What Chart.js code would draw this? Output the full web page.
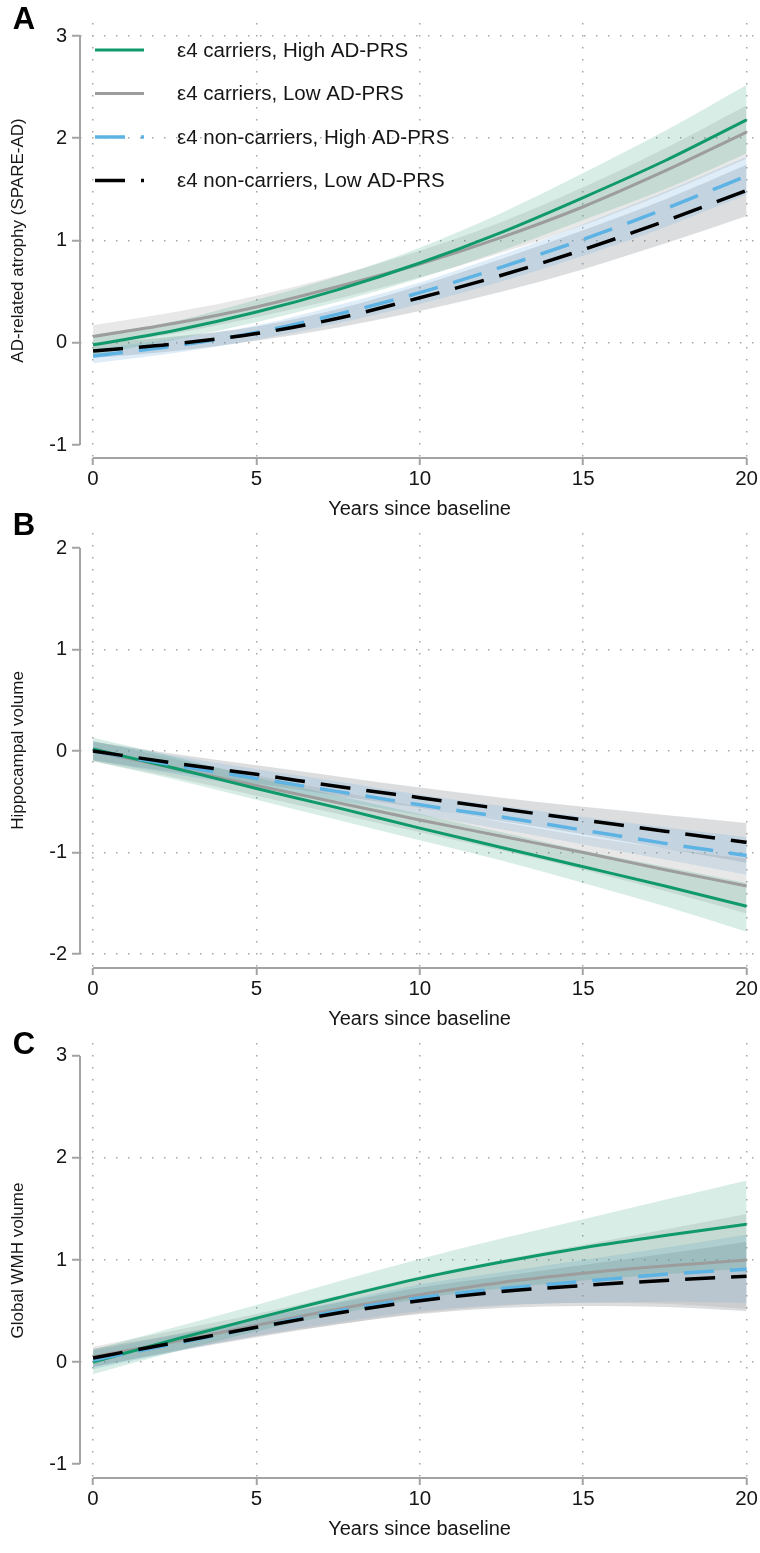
<!DOCTYPE html>
<html>
<head>
<meta charset="utf-8">
<script src="https://cdn.jsdelivr.net/npm/chart.js@4.4.1/dist/chart.umd.min.js"></script>
<style>
  body { margin: 0; background: #fff; width: 760px; height: 1553px; overflow: hidden; position: relative; }
  canvas { position: absolute; left: 0; }
</style>
</head>
<body>
<canvas id="panelA" width="760" height="521" style="top:0px"></canvas>
<canvas id="panelB" width="760" height="526" style="top:505px"></canvas>
<canvas id="panelC" width="760" height="519" style="top:1022px"></canvas>
<script>
// shared x values and labels
const years = [0, 2.5, 5, 7.5, 10, 12.5, 15, 17.5, 20];
const xTickValues = [0, 5, 10, 15, 20];
const groupLabels = ['ε4 carriers, High AD-PRS', 'ε4 carriers, Low AD-PRS',
                     'ε4 non-carriers, High AD-PRS', 'ε4 non-carriers, Low AD-PRS'];

// Panel A - AD-related atrophy (SPARE-AD)
const atrophyTicks = [-1, 0, 1, 2, 3];
const atrophyGrid = [0, 1, 2, 3];
const atrophyCarHigh    = [-0.02, 0.12, 0.30, 0.52, 0.78, 1.08, 1.42, 1.78, 2.18];
const atrophyCarLow     = [0.06, 0.19, 0.35, 0.55, 0.77, 1.03, 1.33, 1.68, 2.06];
const atrophyNonHigh    = [-0.13, -0.03, 0.10, 0.28, 0.49, 0.74, 1.01, 1.31, 1.63];
const atrophyNonLow     = [-0.08, -0.01, 0.09, 0.24, 0.44, 0.66, 0.91, 1.19, 1.49];
const atrophyCarHighLo  = [-0.12, 0.03, 0.20, 0.40, 0.63, 0.90, 1.20, 1.50, 1.85];
const atrophyCarHighHi  = [0.08, 0.21, 0.42, 0.65, 0.93, 1.27, 1.66, 2.07, 2.52];
const atrophyCarLowLo   = [-0.04, 0.09, 0.25, 0.43, 0.64, 0.88, 1.15, 1.46, 1.80];
const atrophyCarLowHi   = [0.17, 0.30, 0.46, 0.66, 0.90, 1.18, 1.52, 1.90, 2.32];
const atrophyNonHighLo  = [-0.20, -0.10, 0.03, 0.19, 0.38, 0.60, 0.85, 1.13, 1.45];
const atrophyNonHighHi  = [-0.06, 0.04, 0.17, 0.37, 0.59, 0.86, 1.16, 1.48, 1.82];
const atrophyNonLowLo   = [-0.15, -0.08, 0.02, 0.15, 0.31, 0.50, 0.72, 0.97, 1.24];
const atrophyNonLowHi   = [-0.01, 0.06, 0.16, 0.33, 0.56, 0.82, 1.10, 1.40, 1.74];

// Panel B - Hippocampal volume
const hippoTicks = [-2, -1, 0, 1, 2];
const hippoGrid = [-2, -1, 0, 1];
const hippoCarHigh    = [0.02, -0.17, -0.37, -0.56, -0.76, -0.95, -1.14, -1.33, -1.53];
const hippoCarLow     = [0.00, -0.17, -0.34, -0.51, -0.68, -0.84, -1.00, -1.17, -1.33];
const hippoNonHigh    = [0.00, -0.14, -0.27, -0.40, -0.53, -0.65, -0.78, -0.91, -1.03];
const hippoNonLow     = [0.00, -0.12, -0.23, -0.35, -0.46, -0.57, -0.68, -0.79, -0.90];
const hippoCarHighLo  = [-0.10, -0.28, -0.48, -0.68, -0.88, -1.08, -1.30, -1.53, -1.78];
const hippoCarHighHi  = [0.13, -0.06, -0.26, -0.44, -0.62, -0.80, -0.98, -1.14, -1.30];
const hippoCarLowLo   = [-0.10, -0.26, -0.44, -0.62, -0.80, -0.98, -1.17, -1.38, -1.60];
const hippoCarLowHi   = [0.10, -0.08, -0.24, -0.40, -0.55, -0.70, -0.84, -0.96, -1.06];
const hippoNonHighLo  = [-0.09, -0.23, -0.36, -0.49, -0.63, -0.77, -0.92, -1.07, -1.22];
const hippoNonHighHi  = [0.09, -0.05, -0.18, -0.30, -0.43, -0.54, -0.65, -0.75, -0.85];
const hippoNonLowLo   = [-0.09, -0.21, -0.32, -0.44, -0.56, -0.69, -0.82, -0.96, -1.10];
const hippoNonLowHi   = [0.09, -0.03, -0.14, -0.25, -0.36, -0.46, -0.55, -0.63, -0.71];

// Panel C - Global WMH volume
const wmhTicks = [-1, 0, 1, 2, 3];
const wmhGrid = [0, 1, 2];
const wmhCarHigh    = [0.00, 0.22, 0.43, 0.63, 0.82, 0.98, 1.12, 1.24, 1.35];
const wmhCarLow     = [0.05, 0.20, 0.36, 0.52, 0.66, 0.78, 0.87, 0.94, 1.00];
const wmhNonHigh    = [0.02, 0.18, 0.34, 0.50, 0.63, 0.72, 0.79, 0.86, 0.91];
const wmhNonLow     = [0.04, 0.19, 0.34, 0.48, 0.60, 0.69, 0.75, 0.80, 0.84];
const wmhCarHighLo  = [-0.12, 0.10, 0.30, 0.47, 0.62, 0.72, 0.80, 0.86, 0.92];
const wmhCarHighHi  = [0.12, 0.34, 0.56, 0.79, 1.01, 1.21, 1.40, 1.59, 1.78];
const wmhCarLowLo   = [-0.05, 0.10, 0.24, 0.37, 0.48, 0.55, 0.58, 0.57, 0.52];
const wmhCarLowHi   = [0.15, 0.31, 0.47, 0.65, 0.84, 1.00, 1.15, 1.30, 1.45];
const wmhNonHighLo  = [-0.07, 0.10, 0.26, 0.39, 0.50, 0.56, 0.58, 0.59, 0.58];
const wmhNonHighHi  = [0.11, 0.26, 0.42, 0.59, 0.76, 0.88, 1.00, 1.12, 1.25];
const wmhNonLowLo   = [-0.05, 0.11, 0.25, 0.37, 0.47, 0.53, 0.55, 0.54, 0.50];
const wmhNonLowHi   = [0.13, 0.27, 0.43, 0.58, 0.73, 0.84, 0.95, 1.06, 1.18];

// styles
const FONT = "'Liberation Sans', Arial, Helvetica, sans-serif";
const TEXT = '#161616';
const AXIS = '#a3a3a3';
const GRID = '#a6a6a6';
const lineColors = ['#109a6c', '#9d9d9d', '#5db3e3', '#000000'];
const lineWidths = [3, 3, 3.5, 3.5];
const lineDashes = [[], [], [30, 16], [30, 16]];
const lineOrder = [2, 3, 1, 0];
const bandColors = ['rgba(20,150,105,0.17)', 'rgba(140,140,140,0.20)',
                    'rgba(120,180,225,0.24)', 'rgba(90,100,110,0.22)'];

Chart.defaults.font.family = FONT;
Chart.defaults.color = TEXT;

const pts = vals => vals.map((v, i) => ({ x: years[i], y: v }));

function buildDatasets(lines, lows, highs) {
  const ds = [];
  lines.forEach((vals, g) => ds.push({
    label: groupLabels[g], data: pts(vals), isMain: true,
    borderColor: lineColors[g], borderWidth: lineWidths[g], borderDash: lineDashes[g],
    order: lineOrder[g], fill: false
  }));
  lows.forEach((lo, g) => {
    ds.push({ data: pts(highs[g]), borderWidth: 0, fill: false, order: 10 + g });
    ds.push({ data: pts(lo), borderWidth: 0, fill: '-1', backgroundColor: bandColors[g], order: 10 + g });
  });
  return ds;
}

// offset axis lines, panel letter and legend
const panelDecor = {
  id: 'panelDecor',
  beforeDatasetsDraw(chart) {
    const { ctx, chartArea } = chart;
    const xs = chart.scales.x, ys = chart.scales.y;
    ctx.save();
    ctx.strokeStyle = AXIS;
    ctx.lineWidth = 2;
    ctx.setLineDash([]);
    ctx.beginPath();
    ctx.moveTo(chartArea.left, ys.getPixelForValue(ys.ticks[0].value));
    ctx.lineTo(chartArea.left, ys.getPixelForValue(ys.ticks[ys.ticks.length - 1].value));
    ctx.moveTo(xs.getPixelForValue(xs.ticks[0].value), chartArea.bottom);
    ctx.lineTo(xs.getPixelForValue(xs.ticks[xs.ticks.length - 1].value), chartArea.bottom);
    ctx.stroke();
    ctx.restore();
  },
  afterDraw(chart, args, opts) {
    const { ctx } = chart;
    ctx.save();
    ctx.fillStyle = '#000';
    ctx.font = 'bold 31px ' + FONT;
    ctx.textAlign = 'center';
    ctx.textBaseline = 'middle';
    ctx.fillText(opts.letter, 24, opts.letterY);
    if (opts.legend) {
      ctx.font = '20.5px ' + FONT;
      ctx.textAlign = 'left';
      ctx.fillStyle = TEXT;
      chart.data.datasets.filter(d => d.isMain).forEach((d, i) => {
        const yy = 50 + i * 43.5;
        ctx.strokeStyle = d.borderColor;
        ctx.lineWidth = d.borderWidth;
        ctx.setLineDash(d.borderDash);
        ctx.beginPath();
        ctx.moveTo(95, yy);
        ctx.lineTo(144, yy);
        ctx.stroke();
        ctx.fillText(d.label, 177, yy + 1);
      });
    }
    ctx.restore();
  }
};

function makePanel(id, cfg) {
  new Chart(document.getElementById(id), {
    type: 'line',
    data: { datasets: buildDatasets(cfg.lines, cfg.lows, cfg.highs) },
    options: {
      responsive: false,
      animation: false,
      events: [],
      layout: { padding: { top: cfg.padTop, left: 0, right: 0, bottom: 0 } },
      elements: {
        point: { radius: 0 },
        line: { tension: 0.4, cubicInterpolationMode: 'monotone' }
      },
      scales: {
        x: {
          type: 'linear', min: -0.4, max: 20.385,
          afterBuildTicks: s => { s.ticks = xTickValues.map(v => ({ value: v })); },
          afterFit: s => { s.height = 63; },
          grid: { color: GRID, lineWidth: 1.5, tickColor: AXIS, tickWidth: 2, tickLength: 7, tickBorderDash: [] },
          border: { display: false, dash: [1.5, 10.5] },
          ticks: { font: { size: 20.5 }, padding: 2, autoSkip: false, maxRotation: 0, color: TEXT },
          title: { display: true, text: 'Years since baseline', font: { size: 20 }, color: TEXT, padding: { top: 0, bottom: 0 } }
        },
        y: {
          type: 'linear', min: cfg.yMin, max: cfg.yMax,
          afterBuildTicks: s => { s.ticks = cfg.yTicks.map(v => ({ value: v })); },
          afterFit: s => { s.width = 80; },
          grid: {
            color: c => (c.tick && cfg.yGrid.includes(c.tick.value)) ? GRID : 'rgba(0,0,0,0)',
            lineWidth: 1.5, tickColor: AXIS, tickWidth: 2, tickLength: 8, tickBorderDash: []
          },
          border: { display: false, dash: [1.5, 10.5] },
          ticks: { font: { size: 20 }, padding: 5, color: TEXT },
          title: { display: true, text: cfg.yTitle, font: { size: 17 }, color: TEXT, padding: { top: 8, bottom: 0 } }
        }
      },
      plugins: {
        legend: { display: false },
        tooltip: { enabled: false },
        panelDecor: { letter: cfg.letter, letterY: cfg.letterY, legend: cfg.legend }
      }
    },
    plugins: [panelDecor]
  });
}

makePanel('panelA', {
  letter: 'A', letterY: 20, legend: true, padTop: 23,
  yMin: -1.127, yMax: 3.127, yTicks: atrophyTicks, yGrid: atrophyGrid,
  yTitle: 'AD-related atrophy (SPARE-AD)',
  lines: [atrophyCarHigh, atrophyCarLow, atrophyNonHigh, atrophyNonLow],
  lows: [atrophyCarHighLo, atrophyCarLowLo, atrophyNonHighLo, atrophyNonLowLo],
  highs: [atrophyCarHighHi, atrophyCarLowHi, atrophyNonHighHi, atrophyNonLowHi]
});

makePanel('panelB', {
  letter: 'B', letterY: 21, legend: false, padTop: 28,
  yMin: -2.138, yMax: 2.148, yTicks: hippoTicks, yGrid: hippoGrid,
  yTitle: 'Hippocampal volume',
  lines: [hippoCarHigh, hippoCarLow, hippoNonHigh, hippoNonLow],
  lows: [hippoCarHighLo, hippoCarLowLo, hippoNonHighLo, hippoNonLowLo],
  highs: [hippoCarHighHi, hippoCarLowHi, hippoNonHighHi, hippoNonLowHi]
});

makePanel('panelC', {
  letter: 'C', letterY: 23, legend: false, padTop: 21,
  yMin: -1.137, yMax: 3.127, yTicks: wmhTicks, yGrid: wmhGrid,
  yTitle: 'Global WMH volume',
  lines: [wmhCarHigh, wmhCarLow, wmhNonHigh, wmhNonLow],
  lows: [wmhCarHighLo, wmhCarLowLo, wmhNonHighLo, wmhNonLowLo],
  highs: [wmhCarHighHi, wmhCarLowHi, wmhNonHighHi, wmhNonLowHi]
});
</script>
</body>
</html>
